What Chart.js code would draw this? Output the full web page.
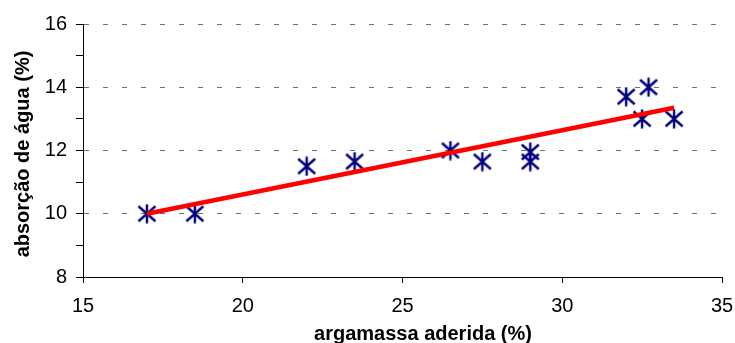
<!DOCTYPE html>
<html>
<head>
<meta charset="utf-8">
<script src="https://cdn.jsdelivr.net/npm/chart.js@4.4.0/dist/chart.umd.min.js"></script>
<style>
body { margin: 0; background: #fff; }
</style>
</head>
<body>
<canvas id="myChart" width="735" height="343"></canvas>
<script>
// dados
var argamassa = [17, 18.5, 22, 23.5, 26.5, 27.5, 29, 29, 32, 32.7, 32.5, 33.5]
var absorcao = [10, 10, 11.5, 11.65, 12, 11.65, 11.95, 11.65, 13.7, 14, 13, 13]
var tendX = [17, 33.5]
var tendY = [10, 13.35]
var xTitulo = "argamassa aderida (%)"
var yTitulo = "absorção de água (%)"

var pontos = []
for (var i = 0; i < argamassa.length; i++) {
    pontos.push({x: argamassa[i], y: absorcao[i]})
}
var linha = []
for (var i = 0; i < tendX.length; i++) {
    linha.push({x: tendX[i], y: tendY[i]})
}

// marcador tipo asterisco do excel
var estrela = document.createElement("canvas")
estrela.width = 20
estrela.height = 20
var sc = estrela.getContext("2d")
sc.strokeStyle = "#000080"
sc.lineWidth = 2.4
sc.beginPath()
sc.moveTo(10, 0.5); sc.lineTo(10, 19.5)
sc.moveTo(1.5, 2.5); sc.lineTo(18.5, 17.5)
sc.moveTo(18.5, 2.5); sc.lineTo(1.5, 17.5)
sc.stroke()

var fonte = "'Liberation Sans', Arial, sans-serif"

var titulos = {
    id: "titulos",
    afterDraw: function(chart) {
        var ctx = chart.ctx
        ctx.save()
        ctx.fillStyle = "#000"
        ctx.font = "bold 20px " + fonte
        ctx.textAlign = "center"
        ctx.textBaseline = "alphabetic"
        ctx.fillText(xTitulo, 423, 340)
        ctx.translate(29, 154)
        ctx.rotate(-Math.PI / 2)
        ctx.fillText(yTitulo, 0, 0)
        ctx.restore()
    }
}

var ctx = document.getElementById("myChart").getContext("2d")
var grafico = new Chart(ctx, {
    type: "scatter",
    data: {
        datasets: [{
            label: "pontos",
            data: pontos,
            pointStyle: estrela,
            pointRadius: 10,
            order: 2
        }, {
            type: "line",
            label: "tendencia",
            data: linha,
            borderColor: "#ff0000",
            borderWidth: 4.5,
            pointRadius: 0,
            fill: false,
            order: 1
        }]
    },
    options: {
        responsive: false,
        animation: false,
        layout: { padding: { top: 24, right: 13, left: 0, bottom: 0 } },
        plugins: { legend: { display: false }, tooltip: { enabled: false } },
        scales: {
            x: {
                type: "linear",
                min: 15,
                max: 35,
                afterFit: function(s) {
                    s.height = 66
                    s.paddingLeft = 0
                    s.paddingRight = 0
                },
                ticks: { stepSize: 5, color: "#000", padding: 11, font: { size: 20, family: fonte } },
                grid: { drawOnChartArea: false, tickLength: 6, tickColor: "#000" },
                border: { color: "#000", width: 1 }
            },
            y: {
                min: 8,
                max: 16,
                afterFit: function(s) {
                    s.width = 83
                    s.paddingTop = 0
                    s.paddingBottom = 0
                },
                ticks: {
                    stepSize: 1,
                    color: "#000",
                    padding: 9,
                    font: { size: 20, family: fonte },
                    callback: function(v) { return v % 2 === 0 ? v : "" }
                },
                grid: {
                    color: function(c) {
                        if (c.tick && c.tick.value % 2 === 0 && c.tick.value > 8) return "#707070"
                        return "rgba(0,0,0,0)"
                    },
                    tickColor: "#000",
                    tickLength: 7
                },
                border: { color: "#000", width: 1, dash: [5, 14] }
            }
        }
    },
    plugins: [titulos]
})
</script>
</body>
</html>
